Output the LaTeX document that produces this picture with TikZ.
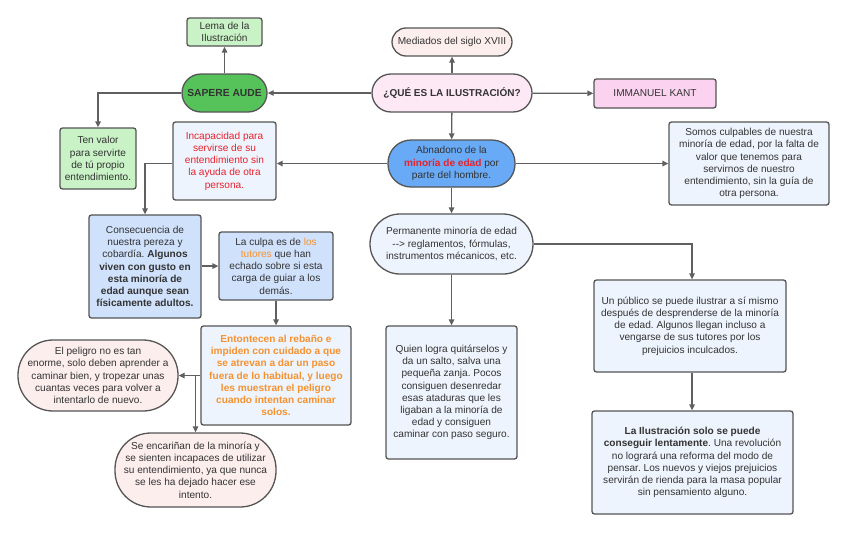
\documentclass[tikz,border=0pt]{standalone}
\usepackage{fontspec}
\setmainfont{Liberation Sans}
\usetikzlibrary{arrows.meta}
\frenchspacing
\definecolor{bordc}{HTML}{555555}
\definecolor{linec}{HTML}{606060}
\definecolor{txt}{HTML}{333333}
\definecolor{lgreen}{HTML}{C9F2C6}
\definecolor{dgreen}{HTML}{56C35A}
\definecolor{lpink}{HTML}{FDEEEE}
\definecolor{qpink}{HTML}{FCE9F5}
\definecolor{kpink}{HTML}{FBD3F0}
\definecolor{lblue}{HTML}{EEF4FD}
\definecolor{mblue}{HTML}{CFE1FB}
\definecolor{dblue}{HTML}{68AAF6}
\definecolor{redt}{HTML}{E8212B}
\definecolor{oranget}{HTML}{F5922F}
\tikzset{
  base/.style={draw=bordc, line width=1.3pt, align=center, inner sep=0pt, text=txt,
    font=\fontsize{10.1}{12.2}\selectfont\frenchspacing},
  box/.style={base, rounded corners=2.5pt},
  stad/.style={base, rounded corners=#1},
  conn/.style={draw=linec, line width=1.3pt, -{Triangle[length=6pt,width=5.5pt]}},
}
\begin{document}
\begin{tikzpicture}[x=1pt,y=-1pt]
\useasboundingbox[fill=white] (0,0) rectangle (848,533);

\node[box, fill=lgreen, minimum width=75pt, minimum height=28pt] (lema) at (224.5,32) {Lema de la\\Ilustración};
\node[stad=19pt, fill=dgreen, minimum width=85pt, minimum height=38pt, font=\fontsize{10.3}{12}\selectfont\bfseries] (sap) at (224.5,93) {SAPERE AUDE};
\node[stad=14pt, fill=lpink, minimum width=120pt, minimum height=28pt] (med) at (452,42) {Mediados del siglo XVIII};
\node[stad=19pt, fill=qpink, minimum width=160pt, minimum height=38pt, font=\fontsize{10}{12}\selectfont\bfseries] (que) at (452,93) {¿QUÉ ES LA ILUSTRACIÓN?};
\node[box, fill=kpink, minimum width=122pt, minimum height=29pt] (kant) at (655,93.5) {IMMANUEL KANT};

\node[box, fill=lgreen, minimum width=76pt, minimum height=61pt] (ten) at (98,158.5) {Ten valor\\para servirte\\de tú propio\\entendimiento.};
\node[box, fill=lblue, minimum width=103pt, minimum height=78pt, text=redt] (inc) at (224.5,161) {Incapacidad para\\servirse de su\\entendimiento sin\\la ayuda de otra\\persona.};
\node[stad=23pt, fill=dblue, minimum width=127pt, minimum height=47pt] (aba) at (451.5,163.5) {Abnadono de la\\{\bfseries\color{redt}minoría de edad} por\\parte del hombre.};
\node[box, fill=lblue, minimum width=160pt, minimum height=83pt] (som) at (749,163.5) {Somos culpables de nuestra\\minoría de edad, por la falta de\\valor que tenemos para\\servirnos de nuestro\\entendimiento, sin la guía de\\otra persona.};

\node[box, fill=mblue, minimum width=112pt, minimum height=103pt] (con) at (145,266.5) {Consecuencia de\\nuestra pereza y\\cobardía. \textbf{Algunos}\\\textbf{viven con gusto en}\\\textbf{esta minoría de}\\\textbf{edad aunque sean}\\\textbf{físicamente adultos.}};
\node[box, fill=mblue, minimum width=114pt, minimum height=68pt] (cul) at (276,266) {La culpa es de {\color{oranget}los}\\{\color{oranget}tutores} que han\\echado sobre si esta\\carga de guiar a los\\demás.};
\node[stad=30pt, fill=lblue, minimum width=163pt, minimum height=60pt] (per) at (451.5,244) {Permanente minoría de edad\\-\kern0pt-> reglamentos, fórmulas,\\instrumentos mécanicos, etc.};
\node[box, fill=lblue, minimum width=192pt, minimum height=92pt] (pub) at (690,326) {Un público se puede ilustrar a sí mismo\\después de desprenderse de la minoría\\de edad. Algunos llegan incluso a\\vengarse de sus tutores por los\\prejuicios inculcados.};

\node[box, fill=lblue, minimum width=150pt, minimum height=99pt, text=oranget, font=\fontsize{10.1}{12.2}\selectfont\bfseries\frenchspacing] (ent) at (276,375.5) {Entontecen al rebaño e\\impiden con cuidado a que\\se atrevan a dar un paso\\fuera de lo habitual, y luego\\les muestran el peligro\\cuando intentan caminar\\solos.};
\node[stad=35pt, fill=lpink, minimum width=160pt, minimum height=71pt] (pel) at (98,375.5) {El peligro no es tan\\enorme, solo deben aprender a\\caminar bien, y tropezar unas\\cuantas veces para volver a\\intentarlo de nuevo.};
\node[box, fill=lblue, minimum width=131pt, minimum height=133pt] (qui) at (451.5,392.5) {Quien logra quitárselos y\\da un salto, salva una\\pequeña zanja. Pocos\\consiguen desenredar\\esas ataduras que les\\ligaban a la minoría de\\edad y consiguen\\caminar con paso seguro.};
\node[stad=36pt, fill=lpink, minimum width=161pt, minimum height=74pt] (enc) at (195.5,470) {Se encariñan de la minoría y\\se sienten incapaces de utilizar\\su entendimiento, ya que nunca\\se les ha dejado hacer ese\\intento.};
\node[box, fill=lblue, minimum width=201pt, minimum height=103pt] (ilu) at (692.5,462.5) {\textbf{La Ilustración solo se puede}\\\textbf{conseguir lentamente}. Una revolución\\no logrará una reforma del modo de\\pensar. Los nuevos y viejos prejuicios\\servirán de rienda para la masa popular\\sin pensamiento alguno.};

\draw[conn] (que) -- (med);
\draw[conn] (que) -- (sap);
\draw[conn] (que) -- (kant);
\draw[conn] (sap) -- (lema);
\draw[conn] (sap.west) -| (ten.north);
\draw[conn] (que) -- (aba);
\draw[conn] (aba.west) -- (inc.east |- aba.west);
\draw[conn] (aba.east) -- (som.west |- aba.east);
\draw[conn] (aba) -- (per);
\draw[conn] (inc.west |- aba.west) -| (con.north);
\draw[conn] (con.east |- cul.west) -- (cul.west);
\draw[conn] (cul) -- (ent);
\draw[conn] (ent.west) -- (pel.east);
\draw[conn] (ent.west) -| (enc.north);
\draw[conn] (per) -- (qui);
\draw[conn] (per.east) -| ([xshift=2pt]pub.north);
\draw[conn] ([xshift=2pt]pub.south) -- ([xshift=2pt]pub.south |- ilu.north);
\end{tikzpicture}
\end{document}
